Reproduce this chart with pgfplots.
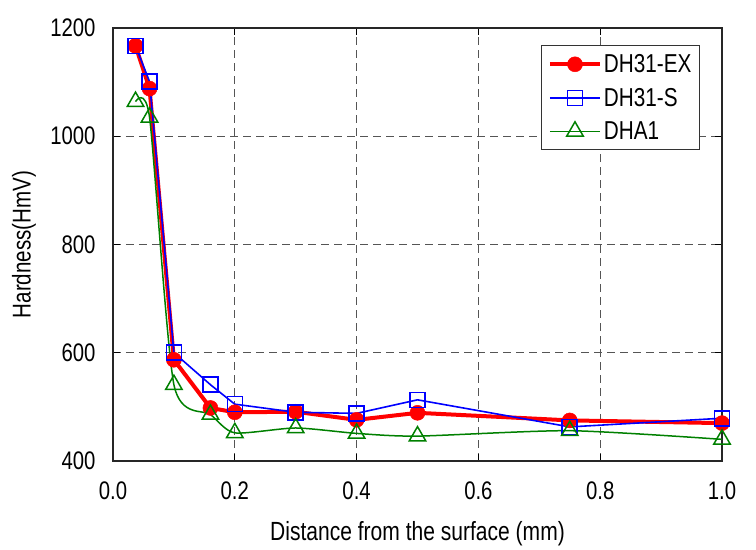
\documentclass[border=0pt]{standalone}
\usepackage{fontspec}
\setmainfont{Liberation Sans}[FakeStretch=0.8]
\usepackage{pgfplots}
\pgfplotsset{compat=1.18}
\definecolor{exred}{RGB}{255,0,0}
\definecolor{sblue}{RGB}{0,0,255}
\definecolor{agreen}{RGB}{0,128,0}
\definecolor{gridgray}{RGB}{85,85,85}

\begin{document}
\begin{tikzpicture}
\begin{axis}[
    scale only axis,
    width=609bp, height=433bp,
    xmin=0, xmax=1,
    ymin=400, ymax=1200,
    xtick={0,0.2,0.4,0.6,0.8,1},
    xticklabels={0.0,0.2,0.4,0.6,0.8,1.0},
    ytick={400,600,800,1000,1200},
    yticklabels={400,600,800,1000,1200},
    tick align=inside,
    major tick length=7bp,
    tick style={line width=1bp, black},
    axis line style={line width=1.6bp, black!85},
    grid=major,
    major grid style={gridgray, line width=1.2bp, dash pattern=on 8bp off 5bp},
    x tick label style={font=\fontsize{25.5}{26}\selectfont, yshift=-17bp},
    y tick label style={font=\fontsize{25.5}{26}\selectfont, xshift=-14bp},
    xlabel={Distance from the surface (mm)},
    xlabel style={at={([yshift=-73bp]rel axis cs:0.5,0)}, anchor=center,
        font=\fontsize{26.4}{27}\selectfont},
    ylabel={Hardness(HmV)},
    ylabel style={at={([xshift=-89bp]rel axis cs:0,0.5)}, anchor=center,
        font=\fontsize{25.8}{26}\selectfont},
    clip=false,
    legend style={at={(1,1)}, anchor=north east, xshift=-22bp, yshift=-17bp,
        draw=black!80, line width=1bp, fill=white,
        font=\fontsize{26}{27}\selectfont,
        row sep=10bp, inner xsep=6bp, inner ysep=7bp},
    legend cell align=left,
    legend image code/.code={%
        \draw[mark repeat=2,mark phase=2] plot coordinates {(0bp,0bp) (25bp,0bp) (50bp,0bp)};},
]
\addplot[exred, line width=4bp, mark=*, mark size=7.5bp,
    mark options={fill=exred, line width=0.5bp}]
coordinates {
(0.037,1167)(0.06,1088)(0.1,587)(0.16,498)(0.2,490)
(0.3,491)(0.4,476)(0.5,489)(0.75,475)(1.0,470)
};
\addlegendentry{DH31-EX}
\addplot[sblue, line width=1.6bp, mark=square, mark size=7.5bp,
    mark options={line width=1.6bp}]
coordinates {
(0.037,1167)(0.06,1101)(0.1,600)(0.16,541)(0.2,505)
(0.3,490)(0.4,488)(0.5,513)(0.75,463)(1.0,479)
};
\addlegendentry{DH31-S}
\addplot[agreen, line width=1.5bp, smooth, tension=0.4, mark=triangle, mark size=9.5bp,
    mark options={line width=1.5bp}]
coordinates {
(0.037,1064)(0.06,1035)(0.1,541)(0.16,486)(0.2,452)
(0.3,461)(0.4,451)(0.5,446)(0.75,456)(1.0,440)
};
\addlegendentry{DHA1}
\coordinate (ll) at (rel axis cs:0,0);
\end{axis}
\path (ll) ++(-113bp,-86bp) rectangle ++(756bp,547bp);
\end{tikzpicture}
\end{document}
